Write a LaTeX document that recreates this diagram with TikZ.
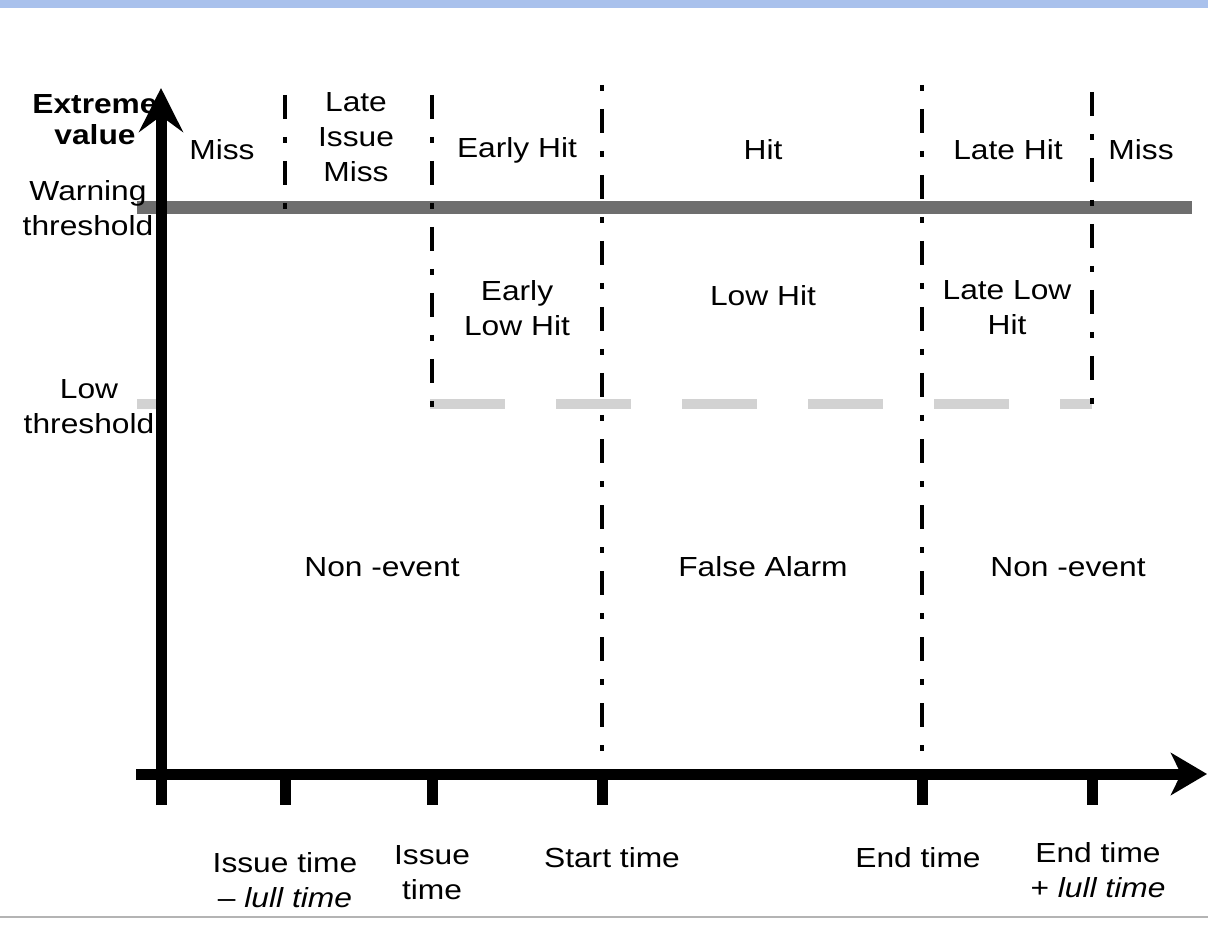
\documentclass[tikz,border=0pt]{standalone}
\usepackage{fontspec}
\setmainfont{Liberation Sans}[FakeStretch=1.15]
\usetikzlibrary{arrows.meta}

\definecolor{bandblue}{HTML}{A9C1EC}
\definecolor{warngray}{HTML}{6E6E6E}
\definecolor{lowgray}{HTML}{D2D2D2}
\definecolor{rulegray}{HTML}{B4B4B4}

\begin{document}
\begin{tikzpicture}[x=0.5pt,y=-0.5pt]

\tikzstyle{every node}=[font=\fontsize{13.8}{17.5}\selectfont, align=center, inner sep=0pt]
\tikzstyle{axis}=[line width=5.5pt]
\tikzstyle{bound}=[line width=2pt, dash pattern=on 12pt off 9pt on 3pt off 9pt]
%bound lines that start with the dot get dash phase=21pt

\useasboundingbox (0,0) rectangle (1208,951);
\fill[bandblue] (0,0) rectangle (1208,8);
\draw[rulegray, line width=1pt] (0,917) -- (1208,917);

\pgfmathsetmacro\warn{208}
\pgfmathsetmacro\low{404}
\pgfmathsetmacro\base{774}

\coordinate (warnL) at (137,\warn);
\coordinate (warnR) at (1192,\warn);
\draw[warngray, line width=6.5pt] (warnL) -- (warnR);

\coordinate (lowL) at (137,\low);
\coordinate (lowA) at (157,\low);
\coordinate (lowB) at (430,\low);
\coordinate (lowR) at (1092,\low);
\draw[lowgray, line width=5pt] (lowL) -- (lowA);
\draw[lowgray, line width=5pt, dash pattern=on 37.5pt off 25.5pt] (lowB) -- (lowR);


\coordinate (issuelullT) at (285,95);
\coordinate (issuelullB) at (285,209);
\draw[bound] (issuelullT) -- (issuelullB);

\coordinate (issueT) at (432,95);
\coordinate (issueB) at (432,407);
\draw[bound] (issueT) -- (issueB);

\coordinate (startT) at (602,85);
\coordinate (startB) at (602,770);
\draw[bound, dash phase=21pt, line width=1.6pt] (startT) -- (startB);

\coordinate (endT) at (922,85);
\coordinate (endB) at (922,770);
\draw[bound, dash phase=21pt] (endT) -- (endB);

\coordinate (endlullT) at (1092,92);
\coordinate (endlullB) at (1092,404);
\draw[bound] (endlullT) -- (endlullB);


\coordinate (ybot) at (161,805);
\coordinate (ytop) at (161,88);
\draw[axis, -{Stealth[length=22pt, width=22pt, inset=8pt]}] (ybot) -- (ytop);

\coordinate (xleft) at (136,\base);
\coordinate (xright) at (1207,\base);
\draw[axis, -{Stealth[length=18pt, width=21pt, inset=5pt]}] (xleft) -- (xright);

\foreach \t in {285,432,602,922,1092}
  \draw[axis] (\t,\base) -- (\t,805);


\node[font=\fontsize{13.8}{15.5}\selectfont\bfseries] (extreme) at (95,120) {Extreme\\value};
\node (warning) at (88,208) {Warning\\threshold};
\node (lowthr) at (89,407) {Low\\threshold};

\node (miss1) at (222,150) {Miss};
\node (lateissue) at (356,137) {Late\\Issue\\Miss};
\node (earlyhit) at (517,150) {Early Hit};
\node (hit) at (763,150) {Hit};
\node (latehit) at (1008,150) {Late Hit};
\node (miss2) at (1141,150) {Miss};

\node (earlylow) at (517,308) {Early\\Low Hit};
\node (lowhit) at (763,296) {Low Hit};
\node (latelow) at (1007,308) {Late Low\\Hit};

\node (nonevent1) at (382,567) {Non -event};
\node (falsealarm) at (763,567) {False Alarm};
\node (nonevent2) at (1068,567) {Non -event};

\node (issuelull) at (285,880) {Issue time\\-- \textit{lull time}};
\node (issue) at (432,873) {Issue\\time};
\node (start) at (612,858) {Start time};
\node (end) at (918,858) {End time};
\node (endlull) at (1098,870) {End time\\+ \textit{lull time}};

\end{tikzpicture}
\end{document}
